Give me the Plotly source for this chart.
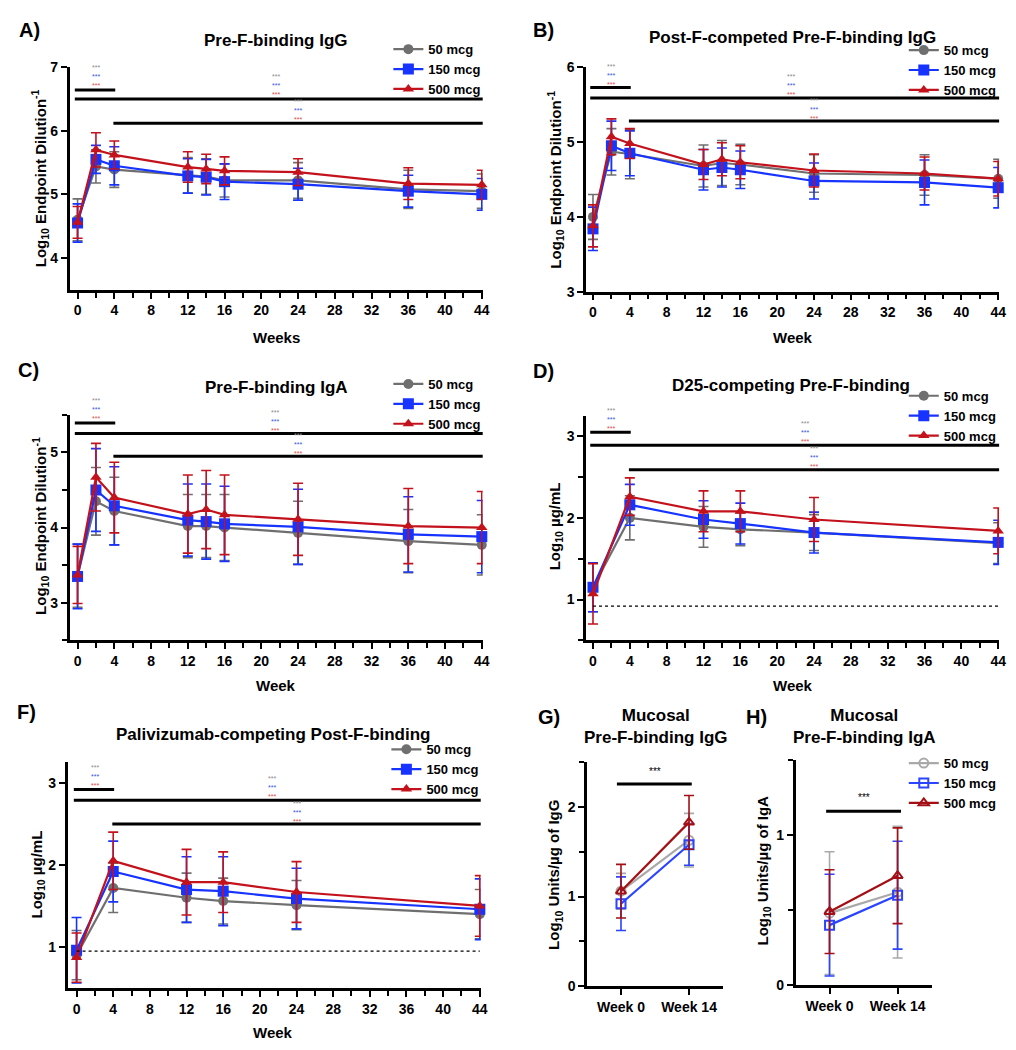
import plotly.graph_objects as go

W, H = 1016, 1050
FONT = "Liberation Sans, Arial, sans-serif"

# ---------------- data ----------------
doses = ["50 mcg", "150 mcg", "500 mcg"]

weeks_AB = [0, 2, 4, 12, 14, 16, 24, 36, 44]
weeks_DF = [0, 4, 12, 16, 24, 44]
muc_cats = ["Week 0", "Week 14"]

A_50 = [4.60, 5.44, 5.39, 5.30, 5.28, 5.22, 5.22, 5.08, 5.05]
A_150 = [4.55, 5.55, 5.45, 5.29, 5.27, 5.20, 5.16, 5.05, 5.00]
A_500 = [4.56, 5.70, 5.62, 5.43, 5.40, 5.37, 5.35, 5.17, 5.15]
A_50_err = [0.33, 0.26, 0.28, 0.28, 0.28, 0.26, 0.28, 0.30, 0.27]
A_150_err = [0.30, 0.22, 0.30, 0.27, 0.28, 0.28, 0.25, 0.25, 0.25]
A_500_err = [0.25, 0.27, 0.22, 0.24, 0.23, 0.22, 0.21, 0.25, 0.23]

B_50 = [4.00, 4.87, 4.84, 4.68, 4.72, 4.70, 4.58, 4.56, 4.51]
B_150 = [3.84, 4.95, 4.85, 4.63, 4.66, 4.63, 4.48, 4.46, 4.39]
B_500 = [3.88, 5.07, 4.98, 4.70, 4.77, 4.73, 4.62, 4.58, 4.51]
B_50_err = [0.30, 0.31, 0.33, 0.28, 0.30, 0.27, 0.25, 0.27, 0.26]
B_150_err = [0.29, 0.33, 0.30, 0.27, 0.26, 0.25, 0.24, 0.30, 0.27]
B_500_err = [0.28, 0.24, 0.20, 0.20, 0.22, 0.22, 0.22, 0.22, 0.23]

C_50 = [3.36, 4.35, 4.22, 4.02, 4.02, 4.00, 3.93, 3.82, 3.77]
C_150 = [3.35, 4.50, 4.29, 4.10, 4.08, 4.05, 4.01, 3.91, 3.88]
C_500 = [3.37, 4.67, 4.40, 4.18, 4.24, 4.17, 4.11, 4.02, 4.00]
C_50_err = [0.42, 0.45, 0.45, 0.42, 0.42, 0.44, 0.42, 0.42, 0.40]
C_150_err = [0.43, 0.55, 0.52, 0.48, 0.50, 0.50, 0.50, 0.50, 0.48]
C_500_err = [0.38, 0.45, 0.47, 0.52, 0.52, 0.53, 0.48, 0.50, 0.48]

D_50 = [1.15, 2.00, 1.89, 1.86, 1.82, 1.69]
D_150 = [1.15, 2.16, 1.98, 1.93, 1.82, 1.70]
D_500 = [1.07, 2.26, 2.08, 2.08, 1.98, 1.84]
D_50_err = [0.30, 0.27, 0.25, 0.20, 0.22, 0.25]
D_150_err = [0.30, 0.25, 0.23, 0.25, 0.25, 0.27]
D_500_err = [0.37, 0.23, 0.25, 0.25, 0.27, 0.28]
D_lod = 0.92

F_50 = [0.90, 1.72, 1.60, 1.56, 1.51, 1.40]
F_150 = [0.96, 1.92, 1.70, 1.68, 1.59, 1.46]
F_500 = [0.87, 2.05, 1.79, 1.79, 1.67, 1.50]
F_50_err = [0.30, 0.30, 0.30, 0.28, 0.30, 0.30]
F_150_err = [0.40, 0.37, 0.40, 0.42, 0.37, 0.37]
F_500_err = [0.30, 0.35, 0.40, 0.37, 0.37, 0.37]
F_lod = 0.95

G_50 = [1.06, 1.63]
G_150 = [0.92, 1.58]
G_500 = [1.06, 1.83]
G_50_err = [0.20, 0.30]
G_150_err = [0.30, 0.23]
G_500_err = [0.30, 0.30]

H_50 = [0.48, 0.62]
H_150 = [0.40, 0.60]
H_500 = [0.49, 0.73]
H_50_err = [0.41, 0.44]
H_150_err = [0.34, 0.36]
H_500_err = [0.28, 0.32]

# significance bars (x0, x1, y) and star groups (x, y of middle row)
A_bars = [(-0.3, 4.1, 6.64), (-0.3, 44.1, 6.50), (3.9, 44.1, 6.12)]
A_stars = [(2, 6.86), (21.6, 6.71), (24, 6.32)]
B_bars = [(-0.3, 4.1, 5.73), (-0.3, 44.1, 5.59), (3.9, 44.1, 5.28)]
B_stars = [(2, 5.89), (21.5, 5.75), (24, 5.43)]
C_bars = [(-0.3, 4.1, 5.39), (-0.3, 44.1, 5.25), (3.9, 44.1, 4.95)]
C_stars = [(2, 5.57), (21.5, 5.41), (24, 5.10)]
D_bars = [(-0.3, 4.1, 3.05), (-0.3, 44.1, 2.89), (3.9, 44.1, 2.59)]
D_stars = [(2, 3.20), (23, 3.05), (24, 2.74)]
F_bars = [(-0.3, 4.1, 2.92), (-0.3, 44.1, 2.79), (3.9, 44.1, 2.50)]
F_stars = [(2, 3.08), (21.3, 2.95), (24, 2.64)]
G_bars = [(-0.06, 1.04, 2.26)]
G_stars = [(0.5, 2.40)]
H_bars = [(-0.05, 1.05, 1.16)]
H_stars = [(0.5, 1.25)]

# ---------------- styles ----------------
COL_MAIN = ["#6f6f6f", "#1633ff", "#c3121c"]
COL_MUC = ["#a9a9a9", "#2a44ff", "#a30f14"]
SYM_MAIN = ["circle", "square", "triangle-up"]
SYM_MUC = ["circle-open", "square-open", "triangle-up-open"]
SIZE = [10, 11, 10]
STAR_COLS = ["#8c8c8c", "#3a55e6", "#e24a4a"]

panels = [
    dict(key="A", x=weeks_AB, ys=[A_50, A_150, A_500], es=[A_50_err, A_150_err, A_500_err],
         xpx=(62, 478), ypx=(52, 278), xr=(-0.87, 44.1), yr=(3.5, 7), ydt=1, yminor=None,
         bars=A_bars, stars=A_stars, lod=None, muc=False, legend=(383, 54),
         title="Pre-F-binding IgG", tpos=(270, 25), letter=(22, 14),
         ytitle="Log<sub>10</sub> Endpoint Dilution<sup>-1</sup>", ytpos=(32, 165),
         xtitle="Weeks", xtpos=(270, 326)),
    dict(key="B", x=weeks_AB, ys=[B_50, B_150, B_500], es=[B_50_err, B_150_err, B_500_err],
         xpx=(582, 998), ypx=(52, 280), xr=(-0.76, 44.1), yr=(3, 6), ydt=1, yminor=None,
         bars=B_bars, stars=B_stars, lod=None, muc=False, legend=(902, 55),
         title="Post-F-competed Pre-F-binding IgG", tpos=(790, 22), letter=(539, 14),
         ytitle="Log<sub>10</sub> Endpoint Dilution<sup>-1</sup>", ytpos=(551, 166),
         xtitle="Week", xtpos=(790, 326)),
    dict(key="C", x=weeks_AB, ys=[C_50, C_150, C_500], es=[C_50_err, C_150_err, C_500_err],
         xpx=(62, 478), ypx=(405, 634), xr=(-0.87, 44.1), yr=(2.5, 5.5), ydt=1, yminor=0.5,
         bars=C_bars, stars=C_stars, lod=None, muc=False, legend=(383, 394),
         title="Pre-F-binding IgA", tpos=(270, 377), letter=(21, 359),
         ytitle="Log<sub>10</sub> Endpoint Dilution<sup>-1</sup>", ytpos=(32, 518),
         xtitle="Week", xtpos=(270, 680)),
    dict(key="D", x=weeks_DF, ys=[D_50, D_150, D_500], es=[D_50_err, D_150_err, D_500_err],
         xpx=(582, 998), ypx=(406, 634), xr=(-0.76, 44.1), yr=(0.5, 3.25), ydt=1, yminor=0.5,
         bars=D_bars, stars=D_stars, lod=D_lod, muc=False, legend=(902, 406),
         title="D25-competing Pre-F-binding", tpos=(788, 375), letter=(539, 360),
         ytitle="Log<sub>10</sub> µg/mL", ytpos=(551, 518),
         xtitle="Week", xtpos=(790, 680)),
    dict(key="F", x=weeks_DF, ys=[F_50, F_150, F_500], es=[F_50_err, F_150_err, F_500_err],
         xpx=(60, 476), ypx=(758, 987), xr=(-0.98, 44.1), yr=(0.5, 3.25), ydt=1, yminor=None,
         bars=F_bars, stars=F_stars, lod=F_lod, muc=False, legend=(381, 765),
         title="Palivizumab-competing Post-F-binding", tpos=(267, 730), letter=(19, 707),
         ytitle="Log<sub>10</sub> µg/mL", ytpos=(30, 872),
         xtitle="Week", xtpos=(267, 1032)),
    dict(key="G", x=muc_cats, ys=[G_50, G_150, G_500], es=[G_50_err, G_150_err, G_500_err],
         xpx=(583, 720), ypx=(758, 985), xr=(-0.5, 1.5), yr=(0, 2.5), ydt=1, yminor=0.5,
         bars=G_bars, stars=G_stars, lod=None, muc=True, legend=None,
         title="Mucosal<br>Pre-F-binding IgG", tpos=(652, 722), letter=(545, 712),
         ytitle="Log<sub>10</sub> Units/µg of IgG", ytpos=(551, 872),
         xtitle=None, xtpos=None),
    dict(key="H", x=muc_cats, ys=[H_50, H_150, H_500], es=[H_50_err, H_150_err, H_500_err],
         xpx=(793, 930), ypx=(756, 984), xr=(-0.5, 1.5), yr=(0, 1.5), ydt=1, yminor=0.5,
         bars=H_bars, stars=H_stars, lod=None, muc=True, legend=(902, 779),
         title="Mucosal<br>Pre-F-binding IgA", tpos=(862, 722), letter=(754, 712),
         ytitle="Log<sub>10</sub> Units/µg of IgA", ytpos=(761, 868),
         xtitle=None, xtpos=None),
]


def px_x(p, v):
    l, r = p["xpx"]
    a, b = p["xr"]
    return l + (v - a) / (b - a) * (r - l)


def px_y(p, v):
    t, bt = p["ypx"]
    a, b = p["yr"]
    return bt - (v - a) / (b - a) * (bt - t)


def paper(xp, yp):
    return xp / W, 1 - yp / H


fig = go.Figure()
layout = dict(width=W, height=H, margin=dict(l=0, r=0, t=0, b=0),
              paper_bgcolor="white", plot_bgcolor="white",
              font=dict(family=FONT, color="black"))
annotations = []
shapes = []

legend_count = 0
for i, p in enumerate(panels, start=1):
    xa = "x" if i == 1 else f"x{i}"
    ya = "y" if i == 1 else f"y{i}"
    xk = "xaxis" if i == 1 else f"xaxis{i}"
    yk = "yaxis" if i == 1 else f"yaxis{i}"

    leg_name = None
    if p["legend"] is not None:
        legend_count += 1
        leg_name = "legend" if legend_count == 1 else f"legend{legend_count}"
        lx, ly = paper(*p["legend"])
        layout[leg_name] = dict(x=lx, y=ly, xanchor="left", yanchor="middle",
                                bgcolor="rgba(0,0,0,0)", borderwidth=0,
                                font=dict(family=FONT, size=13, weight="bold"),
                                tracegroupgap=0, itemwidth=30, itemclick=False)

    cols = COL_MUC if p["muc"] else COL_MAIN
    syms = SYM_MUC if p["muc"] else SYM_MAIN
    for k in range(3):
        tr = dict(
            x=p["x"], y=p["ys"][k], name=doses[k], mode="lines+markers",
            xaxis=xa, yaxis=ya,
            line=dict(color=cols[k], width=2.2),
            marker=dict(symbol=syms[k], size=SIZE[k] if not p["muc"] else 9,
                        color=cols[k], line=dict(color=cols[k], width=2 if p["muc"] else 0)),
            error_y=dict(type="data", array=p["es"][k], color=cols[k],
                         thickness=1.6, width=5),
            showlegend=leg_name is not None, cliponaxis=False,
        )
        if leg_name is not None:
            tr["legend"] = leg_name
        fig.add_trace(go.Scatter(**tr))

    l, r = p["xpx"]
    t, bt = p["ypx"]
    tickfont = dict(family=FONT, size=14, weight="bold", color="black")
    if p["muc"]:
        xaxis = dict(domain=[l / W, r / W], anchor=ya, range=list(p["xr"]),
                     type="category", showline=True, linecolor="black", linewidth=2.5,
                     ticks="outside", ticklen=6, tickwidth=2, tickcolor="black",
                     showgrid=False, zeroline=False, tickfont=tickfont, fixedrange=True)
    else:
        xaxis = dict(domain=[l / W, r / W], anchor=ya, range=list(p["xr"]),
                     showline=True, linecolor="black", linewidth=2.5,
                     ticks="outside", ticklen=6, tickwidth=2, tickcolor="black",
                     tickmode="linear", tick0=0, dtick=4,
                     minor=dict(tickmode="linear", tick0=0, dtick=2, ticks="outside",
                                ticklen=5, tickwidth=2, tickcolor="black", showgrid=False),
                     showgrid=False, zeroline=False, tickfont=tickfont, fixedrange=True)
    yaxis = dict(domain=[1 - bt / H, 1 - t / H], anchor=xa, range=list(p["yr"]),
                 showline=True, linecolor="black", linewidth=2.5,
                 ticks="outside", ticklen=6, tickwidth=2, tickcolor="black",
                 tickmode="linear", tick0=0, dtick=p["ydt"],
                 showgrid=False, zeroline=False, tickfont=tickfont, fixedrange=True)
    if p["yminor"]:
        yaxis["minor"] = dict(tickmode="linear", tick0=0, dtick=p["yminor"], ticks="outside",
                              ticklen=5, tickwidth=2, tickcolor="black", showgrid=False)
    layout[xk] = xaxis
    layout[yk] = yaxis

    # limit of detection
    if p["lod"] is not None:
        shapes.append(dict(type="line", xref=xa, yref=ya, x0=0, x1=44,
                           y0=p["lod"], y1=p["lod"],
                           line=dict(color="black", width=1.3, dash="dot")))

    # significance bars
    for (x0, x1, yv) in p["bars"]:
        X0, Y = paper(px_x(p, x0), px_y(p, yv))
        X1, _ = paper(px_x(p, x1), px_y(p, yv))
        shapes.append(dict(type="line", xref="paper", yref="paper", x0=X0, x1=X1,
                           y0=Y, y1=Y, line=dict(color="black", width=3)))
    for (xs, ysv) in p["stars"]:
        X, Y = paper(px_x(p, xs), px_y(p, ysv))
        if p["muc"]:
            txt = "***"
            fsize = 10
        else:
            txt = "<br>".join(f"<span style='color:{c}'>***</span>" for c in STAR_COLS)
            fsize = 7
        annotations.append(dict(text=txt, x=X, y=Y, xref="paper", yref="paper",
                                showarrow=False, xanchor="center", yanchor="middle",
                                font=dict(family=FONT, size=fsize, color="black")))

    # titles
    tx, ty = paper(*p["tpos"])
    annotations.append(dict(text=p["title"], x=tx, y=ty, xref="paper", yref="paper",
                            showarrow=False, xanchor="center", yanchor="middle",
                            font=dict(family=FONT, size=17, weight="bold")))
    lx, lyy = paper(*p["letter"])
    annotations.append(dict(text=p["key"] + ")", x=lx, y=lyy, xref="paper", yref="paper",
                            showarrow=False, xanchor="center", yanchor="middle",
                            font=dict(family=FONT, size=20, weight="bold")))
    ytx, yty = paper(*p["ytpos"])
    annotations.append(dict(text=p["ytitle"], x=ytx, y=yty, xref="paper", yref="paper",
                            showarrow=False, xanchor="center", yanchor="middle", textangle=-90,
                            font=dict(family=FONT, size=15, weight="bold")))
    if p["xtitle"]:
        xtx, xty = paper(*p["xtpos"])
        annotations.append(dict(text=p["xtitle"], x=xtx, y=xty, xref="paper", yref="paper",
                                showarrow=False, xanchor="center", yanchor="middle",
                                font=dict(family=FONT, size=15, weight="bold")))

layout["annotations"] = annotations
layout["shapes"] = shapes
fig.update_layout(**layout)
fig.write_html("out.html")
